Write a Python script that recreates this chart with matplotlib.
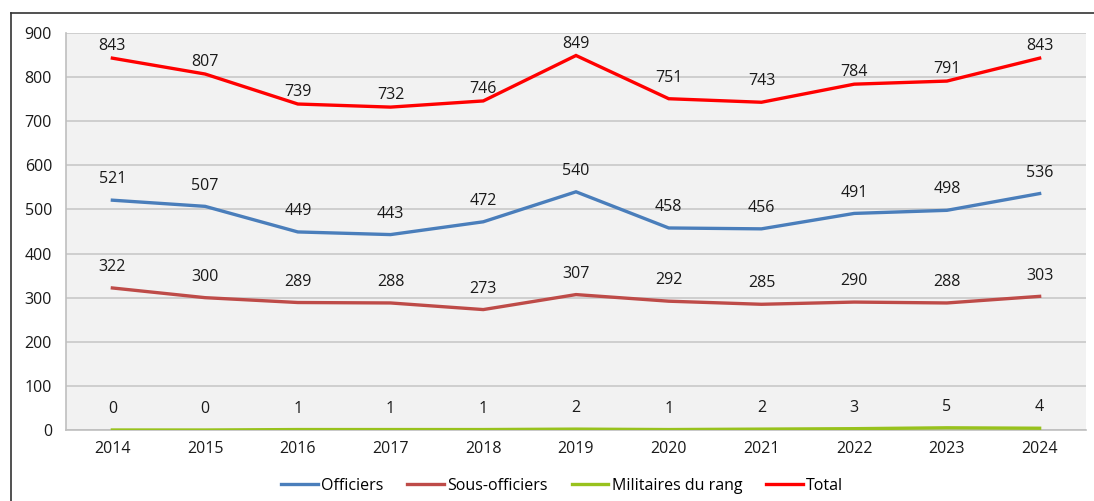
import matplotlib
matplotlib.use("Agg")
import matplotlib.pyplot as plt
from matplotlib.lines import Line2D

# données
years = ["2014", "2015", "2016", "2017", "2018", "2019", "2020", "2021", "2022", "2023", "2024"]
officiers = [521, 507, 449, 443, 472, 540, 458, 456, 491, 498, 536]
sous_officiers = [322, 300, 289, 288, 273, 307, 292, 285, 290, 288, 303]
militaires_rang = [0, 0, 1, 1, 1, 2, 1, 2, 3, 5, 4]
total = [843, 807, 739, 732, 746, 849, 751, 743, 784, 791, 843]

plt.rcParams["font.family"] = ["Open Sans", "DejaVu Sans"]
plt.rcParams["font.size"] = 11.5

fig = plt.figure(figsize=(10.94, 5.01), dpi=100)
ax = fig.add_axes([66 / 1094, 1 - 430 / 501, 1020 / 1094, 397 / 501])
ax.set_facecolor("#f2f2f2")

# cadre extérieur (haut + gauche)
fig.add_artist(Line2D([11 / 1094, 11 / 1094], [0, 1 - 13 / 501], transform=fig.transFigure, color="#333333", lw=1.2))
fig.add_artist(Line2D([11 / 1094, 1], [1 - 13 / 501, 1 - 13 / 501], transform=fig.transFigure, color="#333333", lw=1.2))

x = list(range(len(years)))
series = [
    ("Officiers", officiers, "#4a7ebb"),
    ("Sous-officiers", sous_officiers, "#be4b48"),
    ("Militaires du rang", militaires_rang, "#98c21d"),
    ("Total", total, "#ff0000"),
]
for name, vals, col in series:
    ax.plot(x, vals, color=col, lw=2.4, label=name, solid_joinstyle="miter", zorder=3)
    for i, v in enumerate(vals):
        off = 15
        if name == "Total" and i not in (6, 7):
            off = 8.5
        ax.annotate(str(v), (i, v), xytext=(0, off), textcoords="offset points",
                    ha="center", va="center", fontsize=11.5, color="#1a1a1a", zorder=4)

ax.set_xlim(-0.5, len(years) - 0.5)
ax.set_ylim(0, 900)
ax.set_yticks(range(0, 1000, 100))
ax.set_xticks(x)
ax.set_xticklabels(years)
ax.grid(axis="y", color="#c8c8c8", lw=1.2)
ax.set_axisbelow(True)
for s in ["top", "right"]:
    ax.spines[s].set_visible(False)
for s in ["left", "bottom"]:
    ax.spines[s].set_color("#bfbfbf")
    ax.spines[s].set_linewidth(1.2)
ax.tick_params(axis="both", length=0, labelsize=11.5, colors="#1a1a1a")
ax.tick_params(axis="y", pad=10)
ax.tick_params(axis="x", pad=8)

fig.legend(loc="center", bbox_to_anchor=(562 / 1094, 1 - 486 / 501), ncol=4, frameon=False,
           fontsize=11.5, handlelength=2.3, handletextpad=0.2, columnspacing=1.5)

fig.savefig("out.png", dpi=100)
